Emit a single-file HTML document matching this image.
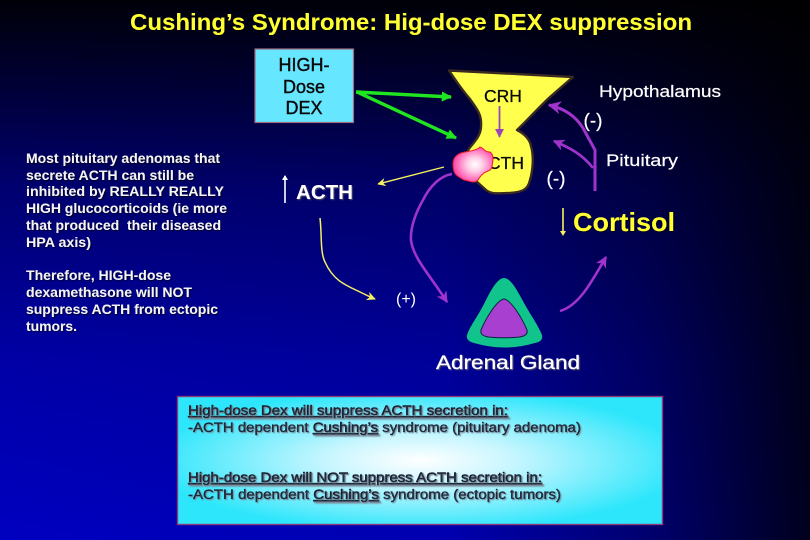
<!DOCTYPE html>
<html><head><meta charset="utf-8">
<style>
html,body{margin:0;padding:0;width:810px;height:540px;overflow:hidden;background:#000}
svg{display:block}
text{font-family:"Liberation Sans",sans-serif}
</style></head><body>
<svg width="810" height="540" viewBox="0 0 810 540" xmlns="http://www.w3.org/2000/svg">
<defs>
<linearGradient id="v" x1="0" y1="0" x2="0" y2="1">
<stop offset="0" stop-color="#000008"/><stop offset=".2" stop-color="#000042"/><stop offset=".35" stop-color="#000070"/><stop offset=".67" stop-color="#0000a6"/><stop offset="1" stop-color="#0000c0"/>
</linearGradient>
<linearGradient id="h" x1="0" y1="0" x2="1" y2="0">
<stop offset="0" stop-color="#000" stop-opacity="0"/><stop offset=".55" stop-color="#000" stop-opacity=".08"/><stop offset=".8" stop-color="#000" stop-opacity=".42"/><stop offset="1" stop-color="#000" stop-opacity=".85"/>
</linearGradient>
<radialGradient id="box" cx=".5" cy=".5" r=".55">
<stop offset="0" stop-color="#fff"/><stop offset=".35" stop-color="#c8f6ff"/><stop offset="1" stop-color="#2ee6fb"/>
</radialGradient>
<radialGradient id="pink" cx=".55" cy=".5" r=".55">
<stop offset="0" stop-color="#fff"/><stop offset=".35" stop-color="#ffd0e8"/><stop offset="1" stop-color="#ff3fa6"/>
</radialGradient>
<filter id="s" x="-5%" y="-20%" width="110%" height="140%"><feDropShadow dx="1" dy="1" stdDeviation=".4" flood-color="#000" flood-opacity=".7"/></filter>
<filter id="sl" x="-5%" y="-20%" width="110%" height="140%"><feDropShadow dx="1" dy="1" stdDeviation=".5" flood-color="#666" flood-opacity=".8"/></filter>
<marker id="ag" viewBox="0 0 10 10" refX="9" refY="5" markerWidth="4" markerHeight="3" orient="auto"><path d="M0 0L10 5L0 10z" fill="#1fe61f"/></marker>
<marker id="ap" viewBox="0 0 10 10" refX="9" refY="5" markerWidth="5" markerHeight="4.400" orient="auto"><path d="M0 0L10 5L0 10L3 5z" fill="#a033cc"/></marker>
<marker id="ap2" viewBox="0 0 10 10" refX="9" refY="5" markerWidth="5" markerHeight="5" orient="auto"><path d="M0 0L10 5L0 10z" fill="#9a46b8"/></marker>
<marker id="ay" viewBox="0 0 10 10" refX="9" refY="5" markerWidth="7" markerHeight="6" orient="auto"><path d="M0 0L10 5L0 10L3 5z" fill="#f5f060"/></marker>
</defs>
<rect width="810" height="540" fill="url(#v)"/>
<rect width="810" height="540" fill="url(#h)"/>

<text x="130" y="30" font-size="23" font-weight="bold" fill="#ffff33" filter="url(#s)" textLength="562" lengthAdjust="spacingAndGlyphs">Cushing’s Syndrome: Hig-dose DEX suppression</text>

<!-- HIGH-Dose DEX -->
<rect x="255" y="49" width="98.500" height="73.500" fill="#66e6ff" stroke="#a06a80" stroke-width="1.200"/>
<g font-size="18" fill="#0a0a0a" text-anchor="middle" stroke="#0a0a0a" stroke-width=".4">
<text x="304" y="71">HIGH-</text><text x="304" y="93">Dose</text><text x="304" y="114">DEX</text>
</g>

<!-- green arrows -->
<path d="M356 92L451 97" stroke="#1fe61f" stroke-width="3.400" fill="none" marker-end="url(#ag)"/>
<path d="M357 92L456 138" stroke="#1fe61f" stroke-width="3.400" fill="none" marker-end="url(#ag)"/>

<!-- gland -->
<path d="M449 70.500L573 77L550 97C536 110 526 122 517 130C525 134 530 140 531 146C534 156 533 170 530 180C528 190 522 192 510 193C500 193 492 195 486 190L476 181L468 150C474 142 481 136 481 126C482 114 476 108 470 99C462 90 454 78 449 70.500Z" fill="#ffff4d" stroke="#3a2a20" stroke-width="2.400" stroke-linejoin="round"/>
<text x="503" y="102" text-anchor="middle" font-size="17.500" fill="#0a0a0a" stroke="#0a0a0a" stroke-width=".3">CRH</text>
<path d="M499.500 106V137" stroke="#9a46b8" stroke-width="1.800" fill="none" marker-end="url(#ap2)"/>
<text x="524" y="169" text-anchor="end" font-size="17.500" fill="#0a0a0a" stroke="#0a0a0a" stroke-width=".3">ACTH</text>
<path d="M461 153C468 151 476 151 480 147C484 148 484 152 490 152C493 154 493 157 493 160C492 167 492 170 488 171C482 173 480 177 478 180C474 184 470 181 464 180C458 176 453 176 453 164C453 158 456 155 461 153Z" fill="url(#pink)" stroke="#e8202c" stroke-width="1"/>

<!-- yellow thin arrow to ACTH -->
<path d="M444 167L378 184" stroke="#f5f060" stroke-width="1.400" fill="none" marker-end="url(#ay)"/>
<!-- up arrow -->
<path d="M285 203V176" stroke="#fff" stroke-width="1.600" fill="none"/>
<path d="M282 180L285 175L288 180z" fill="#fff"/>
<text x="296" y="199" font-size="20" font-weight="bold" fill="#fff" filter="url(#sl)" textLength="57" lengthAdjust="spacingAndGlyphs">ACTH</text>

<!-- yellow curve to (+) -->
<path d="M320 218C322 235 320 252 325 262C333 280 345 285 358 291C364 294 370 297 375 299" stroke="#f5f060" stroke-width="1.500" fill="none" marker-end="url(#ay)"/>
<text x="406" y="304" text-anchor="middle" font-size="16" fill="#fff">(+)</text>

<!-- purple ACTH curve -->
<path d="M452 174C440 176 430 186 423 200C416 212 410 228 411 240C413 258 430 275 447 302" stroke="#a033cc" stroke-width="2.600" fill="none" marker-end="url(#ap)"/>

<!-- adrenal -->
<path d="M504 278C497 278 490 292 484 304C478 316 470 326 467 335C466 340 470 342 474 343C495 349 515 349 535 343C540 342 543 340 542 335C538 325 530 314 524 303C518 292 511 278 504 278Z" fill="#10c48c"/>
<path d="M504 299C497 300 486 318 481 330C480 335 484 336 488 337C498 338 510 338 520 337C525 336 528 334 527 330C522 318 511 300 504 299Z" fill="#a93fd0" stroke="#0a2040" stroke-width="1"/>
<text x="436" y="369" font-size="19" fill="#fff" stroke="#fff" stroke-width=".25" filter="url(#sl)" textLength="144" lengthAdjust="spacingAndGlyphs">Adrenal Gland</text>

<!-- purple cortisol -->
<path d="M560 311C578 306 590 285 606 257" stroke="#a033cc" stroke-width="2.600" fill="none" marker-end="url(#ap)"/>
<path d="M595 191V150L583 128C576 117 566 109 549 105" stroke="#a033cc" stroke-width="3" fill="none" marker-end="url(#ap)"/>
<path d="M593 168C582 154 570 148 554 141" stroke="#a033cc" stroke-width="2.600" fill="none" marker-end="url(#ap)"/>

<text x="599" y="97" font-size="17" fill="#fff" stroke="#fff" stroke-width=".2" textLength="122" lengthAdjust="spacingAndGlyphs">Hypothalamus</text>
<text x="593" y="127" text-anchor="middle" font-size="19" fill="#fff" stroke="#fff" stroke-width=".2">(-)</text>
<text x="606" y="166" font-size="17" fill="#fff" stroke="#fff" stroke-width=".2" textLength="72" lengthAdjust="spacingAndGlyphs">Pituitary</text>
<text x="556" y="185" text-anchor="middle" font-size="19" fill="#fff" stroke="#fff" stroke-width=".2">(-)</text>

<path d="M563 208V234" stroke="#f5f060" stroke-width="1.600" fill="none"/>
<path d="M560 231L563 236L566 231z" fill="#f5f060"/>
<text x="573" y="231" font-size="26" font-weight="bold" fill="#ffff33" filter="url(#s)" textLength="102" lengthAdjust="spacingAndGlyphs">Cortisol</text>

<!-- left text -->
<g font-size="13.500" font-weight="bold" fill="#f4f4f4" filter="url(#s)">
<text x="26" y="163" textLength="194" lengthAdjust="spacingAndGlyphs">Most pituitary adenomas that</text>
<text x="26" y="180" textLength="168" lengthAdjust="spacingAndGlyphs">secrete ACTH can still be</text>
<text x="26" y="196" textLength="198" lengthAdjust="spacingAndGlyphs">inhibited by REALLY REALLY</text>
<text x="26" y="213" textLength="201" lengthAdjust="spacingAndGlyphs">HIGH glucocorticoids (ie more</text>
<text x="26" y="230" textLength="195" lengthAdjust="spacingAndGlyphs" xml:space="preserve">that produced  their diseased</text>
<text x="26" y="247" textLength="65" lengthAdjust="spacingAndGlyphs">HPA axis)</text>
<text x="26" y="280" textLength="145" lengthAdjust="spacingAndGlyphs">Therefore, HIGH-dose</text>
<text x="26" y="297" textLength="166" lengthAdjust="spacingAndGlyphs">dexamethasone will NOT</text>
<text x="26" y="314" textLength="192" lengthAdjust="spacingAndGlyphs">suppress ACTH from ectopic</text>
<text x="26" y="331" textLength="51" lengthAdjust="spacingAndGlyphs">tumors.</text>
</g>

<!-- bottom box -->
<rect x="177.500" y="396.500" width="485" height="128" fill="url(#box)" stroke="#8a3a7a" stroke-width="1.400"/>
<g font-size="13.500" fill="#101828" stroke="#101828" stroke-width=".3" style="text-shadow:1px 1px 1px #7a8a99">
<text x="188" y="415" text-decoration="underline" textLength="320" lengthAdjust="spacingAndGlyphs">High-dose Dex will suppress ACTH secretion in:</text>
<text x="188" y="432" textLength="393" lengthAdjust="spacingAndGlyphs">-ACTH dependent <tspan text-decoration="underline">Cushing’s</tspan> syndrome (pituitary adenoma)</text>
<text x="188" y="482" text-decoration="underline" textLength="354" lengthAdjust="spacingAndGlyphs">High-dose Dex will NOT suppress ACTH secretion in:</text>
<text x="188" y="499" textLength="373" lengthAdjust="spacingAndGlyphs">-ACTH dependent <tspan text-decoration="underline">Cushing’s</tspan> syndrome (ectopic tumors)</text>
</g>
</svg>
</body></html>
